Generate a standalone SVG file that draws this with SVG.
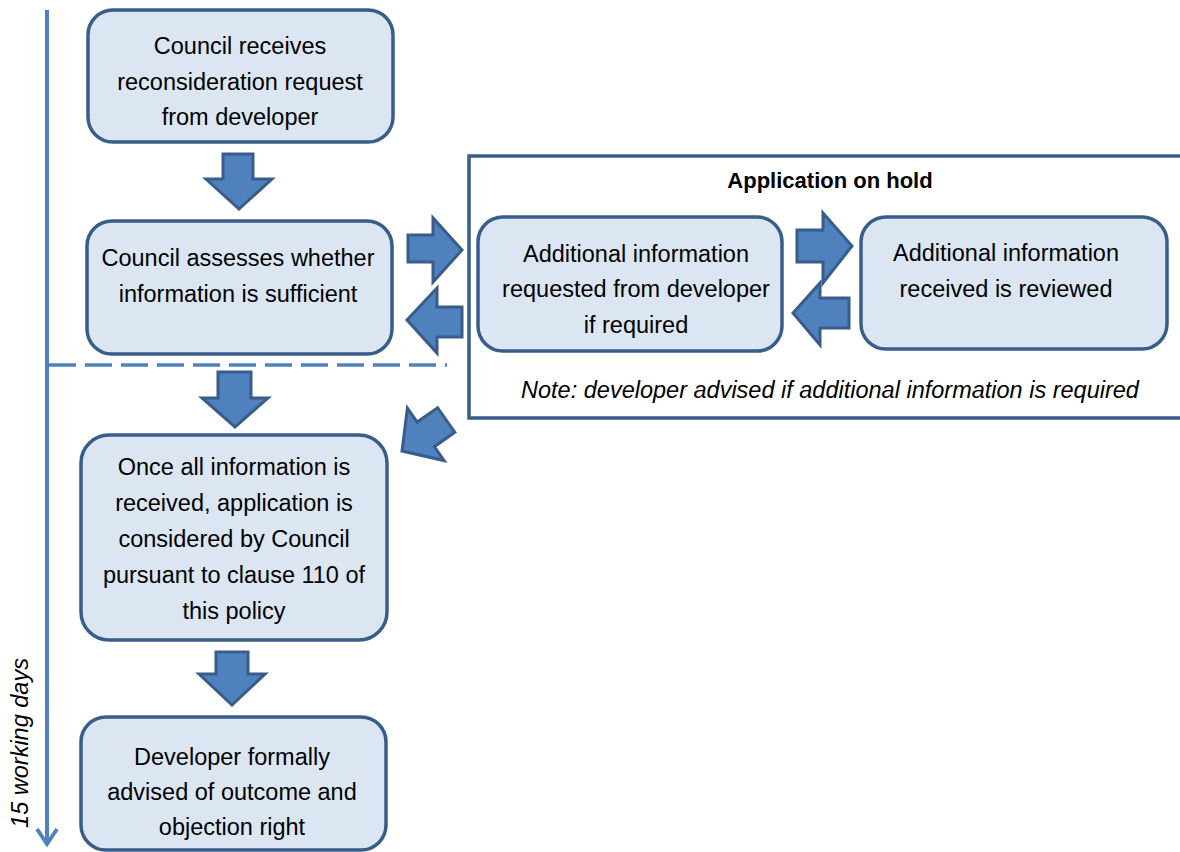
<svg xmlns="http://www.w3.org/2000/svg" width="1180" height="852" viewBox="0 0 1180 852">
<style>
.box{fill:#dce6f2;stroke:#385d8a;stroke-width:3.5}
.arr{fill:#4f81bd;stroke:#385d8a;stroke-width:3;stroke-linejoin:miter}
.t{font-family:"Liberation Sans",Arial,sans-serif;font-size:23.5px;fill:#000;text-anchor:middle}
.b{font-weight:bold;font-size:22px}
.i{font-style:italic}
</style>
<rect width="1180" height="852" fill="#fff"/>
<g id="timeline">
<line x1="47" y1="10" x2="47" y2="843" stroke="#4f81bd" stroke-width="4"/>
<polyline points="37,829 47,844 57,829" fill="none" stroke="#4f81bd" stroke-width="4"/>
<text class="t i" transform="translate(28,743) rotate(-90)">15 working days</text>
<line x1="49" y1="365" x2="447" y2="365" stroke="#4f81bd" stroke-width="3.5" stroke-dasharray="27 9"/>
</g>
<g id="hold">
<rect x="469" y="156" width="730" height="262" fill="none" stroke="#385d8a" stroke-width="3.5"/>
<text class="t b" x="830" y="188">Application on hold</text>
<text class="t i" x="830" y="398">Note: developer advised if additional information is required</text>
</g>
<g id="n1">
<rect class="box" x="88" y="10" width="305" height="132" rx="25"/>
<text class="t" x="240" y="54">Council receives</text>
<text class="t" x="240" y="89.5">reconsideration request</text>
<text class="t" x="240" y="125">from developer</text>
</g>
<g id="n2">
<rect class="box" x="87" y="221" width="305" height="133" rx="25"/>
<text class="t" x="238" y="266">Council assesses whether</text>
<text class="t" x="238" y="302">information is sufficient</text>
</g>
<g id="n3">
<rect class="box" x="81" y="435" width="306" height="205" rx="28"/>
<text class="t" x="234" y="475">Once all information is</text>
<text class="t" x="234" y="511">received, application is</text>
<text class="t" x="234" y="547">considered by Council</text>
<text class="t" x="234" y="583">pursuant to clause 110 of</text>
<text class="t" x="234" y="619">this policy</text>
</g>
<g id="n4">
<rect class="box" x="81" y="717" width="305" height="133" rx="25"/>
<text class="t" x="232" y="765">Developer formally</text>
<text class="t" x="232" y="800">advised of outcome and</text>
<text class="t" x="232" y="835">objection right</text>
</g>
<g id="n5">
<rect class="box" x="478" y="217" width="304" height="134" rx="25"/>
<text class="t" x="636" y="262">Additional information</text>
<text class="t" x="636" y="297">requested from developer</text>
<text class="t" x="636" y="333">if required</text>
</g>
<g id="n6">
<rect class="box" x="861" y="217" width="306" height="132" rx="25"/>
<text class="t" x="1006" y="261">Additional information</text>
<text class="t" x="1006" y="297">received is reviewed</text>
</g>
<g id="connectors">
<polygon class="arr" points="223,154 253,154 253,179 272,179 239,209 206,179 223,179"/>
<polygon class="arr" points="218,372 251,372 251,398 268,398 235,427 202,398 218,398"/>
<polygon class="arr" points="216,652 248,652 248,674 265,674 232,705 199,674 216,674"/>
<polygon class="arr" points="408,235 433,235 433,218 462,250 433,282 433,262 408,262"/>
<polygon class="arr" points="462,307 437,307 437,288 407,320 437,353 437,337 462,337"/>
<polygon class="arr" points="797,230 823,230 823,213 852,246 823,283 823,262 797,262"/>
<polygon class="arr" points="849,298 820,298 820,283 793,313 820,345 820,328 849,328"/>
<polygon class="arr" transform="translate(402,451) rotate(145)" points="-54,-15 -29,-15 -29,-32 0,0 -29,32 -29,15 -54,15"/>
</g>
</svg>
